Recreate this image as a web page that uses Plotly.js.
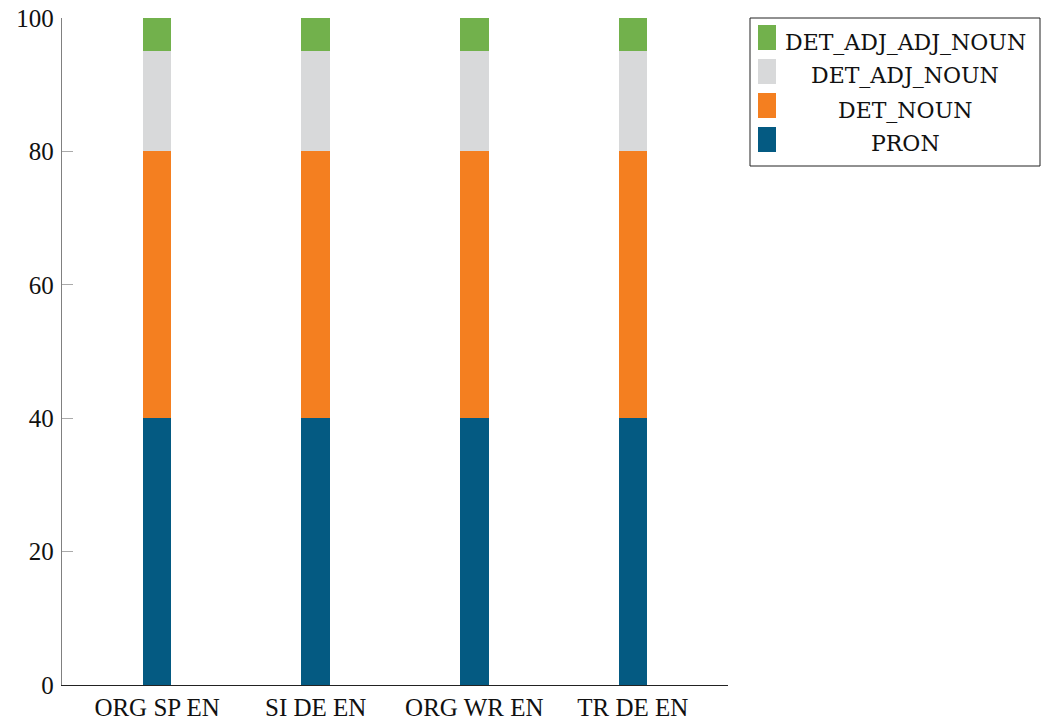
<!DOCTYPE html>
<html><head><meta charset="utf-8">
<script src="https://cdn.plot.ly/plotly-3.0.1.min.js"></script>
<style>body{margin:0;background:#fff}#chart{width:1044px;height:725px}</style>
</head><body><div id="chart"></div>
<script>
const categories = ["ORG SP EN", "SI DE EN", "ORG WR EN", "TR DE EN"];
const PRON = [40, 40, 40, 40];
const DET_NOUN = [40, 40, 40, 40];
const DET_ADJ_NOUN = [15, 15, 15, 15];
const DET_ADJ_ADJ_NOUN = [5, 5, 5, 5];
const seriesNames = ["PRON", "DET_NOUN", "DET_ADJ_NOUN", "DET_ADJ_ADJ_NOUN"];
const seriesValues = [PRON, DET_NOUN, DET_ADJ_NOUN, DET_ADJ_ADJ_NOUN];
const seriesColors = ["#045a82", "#f47f20", "#d8d9da", "#72b14c"];

const font = "Liberation Serif, DejaVu Serif, serif";
const legendFont = "DejaVu Serif, Liberation Serif, serif";
const traces = seriesNames.map((n, i) => ({
  type: "bar", name: n, x: categories, y: seriesValues[i],
  marker: {color: seriesColors[i], line: {width: 0}},
  width: 0.18, showlegend: false, hoverinfo: "x+y+name"
}));

// custom legend (box, swatches, centered labels) in pixel-derived paper coords
const W = 1044, H = 725, ml = 62, mr = 316, mt = 18, mb = 40;
const pw = W - ml - mr, ph = H - mt - mb;
const px = x => (x - ml) / pw;
const py = y => 1 - (y - mt) / ph;
const shapes = [{type: "rect", xref: "paper", yref: "paper",
  x0: px(750), x1: px(1040), y0: py(166), y1: py(18),
  line: {color: "#222", width: 1}, fillcolor: "rgba(0,0,0,0)"}];
const annotations = [];
const order = [3, 2, 1, 0];
order.forEach((si, r) => {
  const top = 25 + r * 34;
  shapes.push({type: "rect", xref: "paper", yref: "paper",
    x0: px(758), x1: px(776), y0: py(top + 25), y1: py(top),
    line: {width: 0}, fillcolor: seriesColors[si]});
  annotations.push({xref: "paper", yref: "paper", x: px(905), y: py(top + 17),
    text: seriesNames[si], showarrow: false, xanchor: "center", yanchor: "middle",
    font: {family: legendFont, size: 22, color: "#111"}});
});

const layout = {
  width: W, height: H, barmode: "stack",
  margin: {l: ml, r: mr, t: mt, b: mb, pad: 0},
  paper_bgcolor: "#fff", plot_bgcolor: "#fff",
  font: {family: font, color: "#111"},
  xaxis: {range: [-0.6, 3.6], showgrid: false, zeroline: false, showline: true,
    linecolor: "#222", linewidth: 1.3, ticks: "", tickfont: {size: 25, family: font, color: "#111"},
    fixedrange: true},
  yaxis: {range: [0, 100], tickvals: [0, 20, 40, 60, 80, 100], showgrid: false, zeroline: false,
    showline: true, linecolor: "#808080", linewidth: 1.3, ticks: "inside", ticklen: 11,
    tickcolor: "#aaa", tickwidth: 1, tickfont: {size: 25, family: font, color: "#111"},
    ticklabelstandoff: 2, fixedrange: true},
  shapes: shapes, annotations: annotations, showlegend: false
};
Plotly.newPlot("chart", traces, layout, {displayModeBar: false, staticPlot: true});
</script></body></html>
